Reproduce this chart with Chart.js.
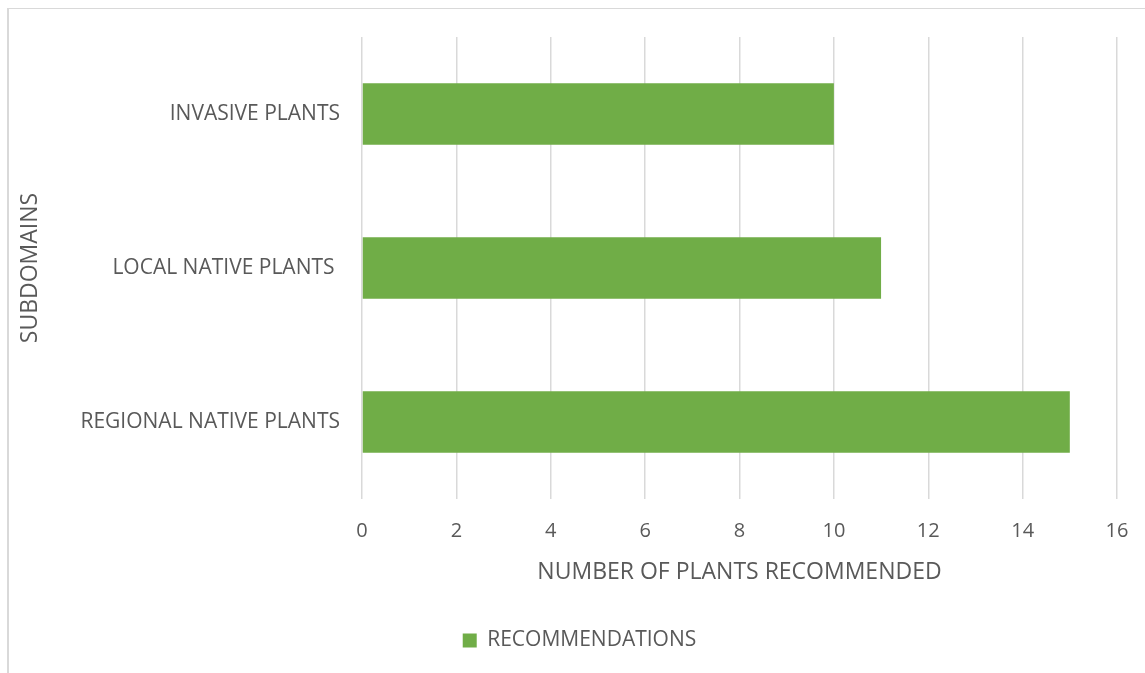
<!DOCTYPE html>
<html>
<head>
<meta charset="utf-8">
<script src="https://cdn.jsdelivr.net/npm/chart.js@4"></script>
<style>
  html, body { margin: 0; padding: 0; background: #fff; }
  #frame {
    position: absolute; left: 7px; top: 8px; width: 1200px; height: 700px;
    border-left: 2px solid #d9d9d9; border-top: 1px solid #d9d9d9;
  }
  #wrap { position: absolute; left: 0; top: 0; width: 1145px; height: 673px; }
</style>
</head>
<body>
<div id="frame"></div>
<div id="wrap"><canvas id="chart"></canvas></div>
<script>
// Plant recommendations per subdomain
const subdomains = ['INVASIVE PLANTS', 'LOCAL NATIVE PLANTS ', 'REGIONAL NATIVE PLANTS'];
const recommendations = [10, 11, 15];
const seriesName = 'RECOMMENDATIONS';
const xTitle = 'NUMBER OF PLANTS RECOMMENDED';
const yTitle = 'SUBDOMAINS';

const GREEN = '#70ad47';
const TEXT = '#595959';
const GRID = '#d9d9d9';
const FONT = "'Open Sans', 'Noto Sans', sans-serif";

Chart.defaults.font.family = FONT;
Chart.defaults.color = TEXT;

// nudge the legend a little right so it sits under the plot area
const legendShift = {
  id: 'legendShift',
  afterLayout(chart) {
    chart.legend.left += 16;
    chart.legend.right += 16;
  },
};

new Chart(document.getElementById('chart'), {
  type: 'bar',
  data: {
    labels: subdomains,
    datasets: [{
      label: seriesName,
      data: recommendations,
      backgroundColor: GREEN,
      borderWidth: 0,
      categoryPercentage: 1,
      barPercentage: 0.4,
    }],
  },
  plugins: [legendShift],
  options: {
    indexAxis: 'y',
    responsive: true,
    maintainAspectRatio: false,
    animation: false,
    layout: { padding: { left: 10, top: 37, right: 28, bottom: 12 } },
    plugins: {
      legend: {
        position: 'bottom',
        labels: {
          color: TEXT,
          boxWidth: 14,
          boxHeight: 14,
          padding: 10,
          font: { size: 21 },
        },
      },
      tooltip: { enabled: false },
    },
    scales: {
      x: {
        min: 0,
        max: 16,
        // invisible tick marks keep the labels clear of the plot without
        // the extra right-side padding that ticks.padding would add
        ticks: { stepSize: 2, padding: 0, color: TEXT, font: { size: 20 } },
        grid: { color: GRID, lineWidth: 1.5, drawTicks: true, tickLength: 20, tickColor: 'rgba(0,0,0,0)' },
        border: { display: false },
        title: { display: true, text: xTitle, color: TEXT, font: { size: 23 }, padding: { top: 0, bottom: 34 } },
        afterFit: (s) => { s.height = 121; },
      },
      y: {
        ticks: { padding: 22, color: TEXT, font: { size: 21 } },
        grid: { display: false, drawTicks: false },
        border: { display: false },
        title: { display: true, text: yTitle, color: TEXT, font: { size: 23 }, padding: { top: 7 } },
        afterFit: (s) => { s.width = 352; },
      },
    },
  },
});
</script>
</body>
</html>
